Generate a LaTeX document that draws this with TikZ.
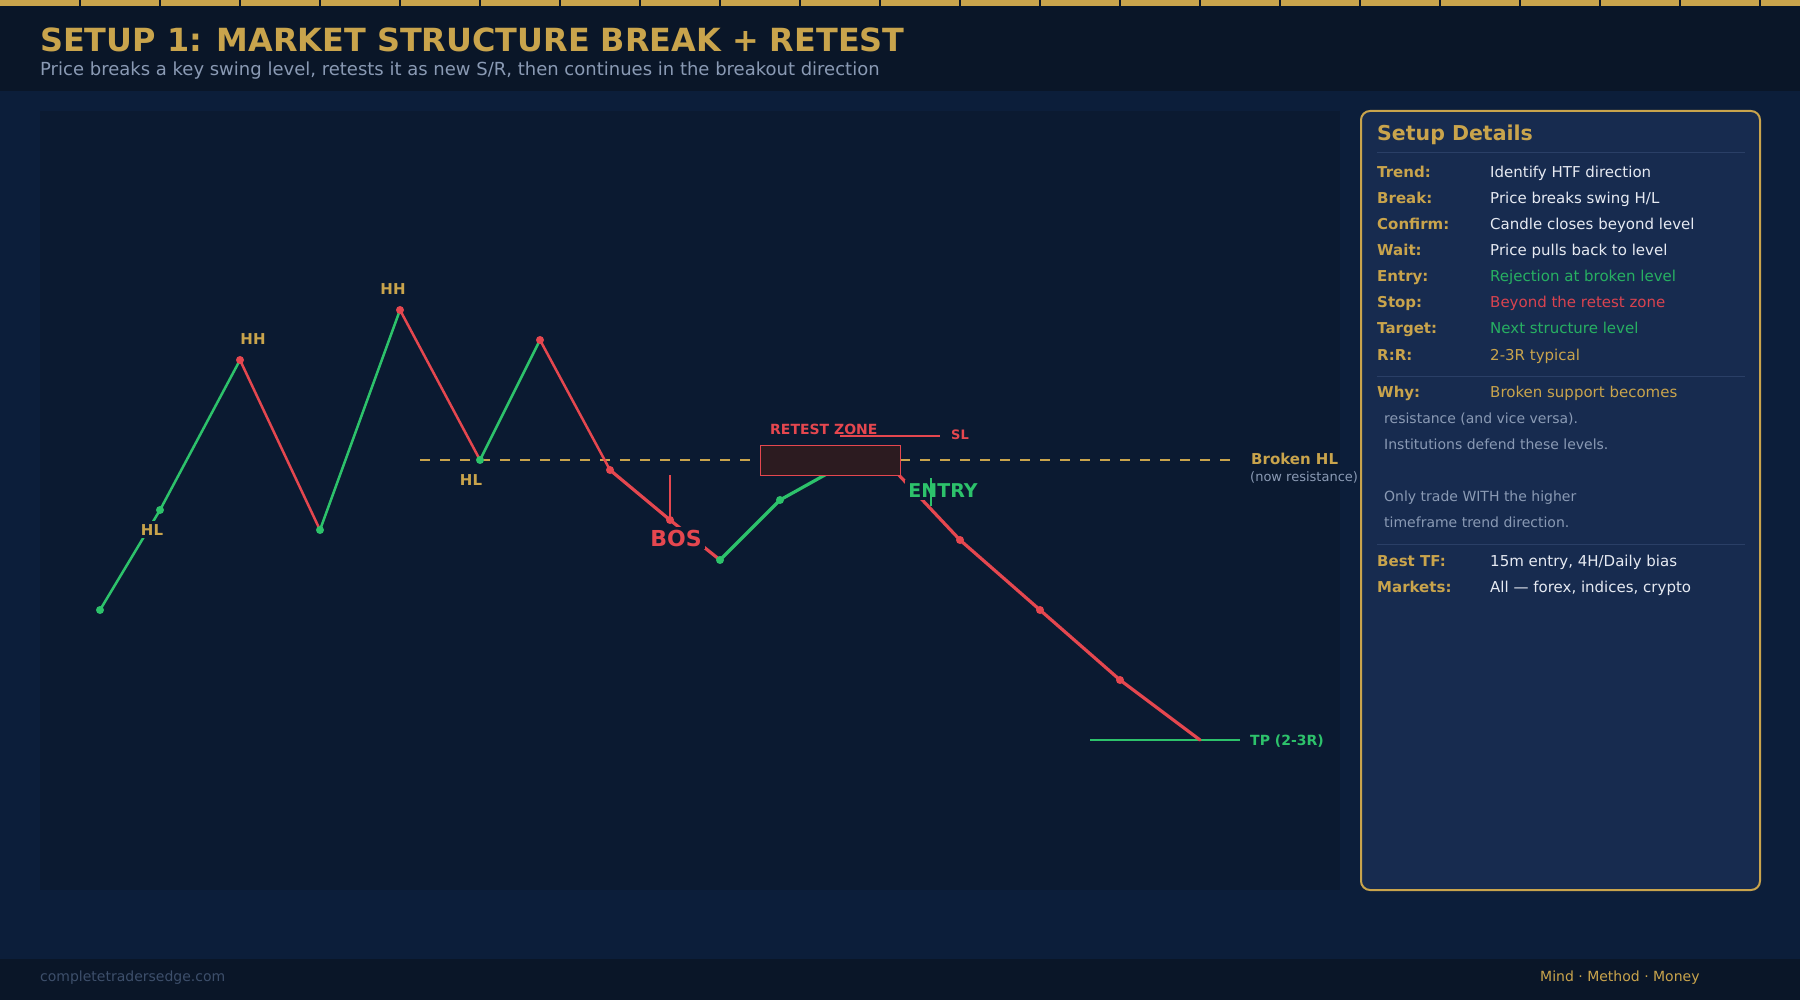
\documentclass[tikz,border=0pt]{standalone}
\usepackage{fontspec}
\setmainfont{DejaVu Sans}
\newcommand\myfs[1]{\fontsize{#1}{#1}\selectfont}
\definecolor{bgmain}{HTML}{0C1E3A}
\definecolor{bghead}{HTML}{0A1628}
\definecolor{bgchart}{HTML}{0B1A31}
\definecolor{bgpanel}{HTML}{172B4F}
\definecolor{cgold}{HTML}{C9A44C}
\definecolor{cgreen}{HTML}{2DC26B}
\definecolor{cred}{HTML}{E5474F}
\definecolor{ctxt}{HTML}{E6EAF2}
\definecolor{cgray}{HTML}{8A9AB4}
\definecolor{cdim}{HTML}{3D4F6B}
\definecolor{csep}{HTML}{2A3F66}
\definecolor{czone}{HTML}{2C1B20}
\definecolor{tgreen}{HTML}{27B062}
\definecolor{tred}{HTML}{D9434F}
\tikzset{
  gdot/.style={circle, fill=cgreen, inner sep=0pt, minimum size=8pt},
  rdot/.style={circle, fill=cred, inner sep=0pt, minimum size=8pt},
  upleg/.style={draw=cgreen, line width=2.5pt, line cap=round},
  dnleg/.style={draw=cred, line width=2.5pt, line cap=round},
  upleg2/.style={draw=cgreen, line width=3.2pt, line cap=round},
  dnleg2/.style={draw=cred, line width=3.2pt, line cap=round},
  swing/.style={anchor=base, text=cgold, font=\myfs{15}\bfseries, fill=bgchart, inner sep=3pt},
  rowlab/.style={anchor=base west, text=cgold, font=\myfs{15}\bfseries, inner sep=0pt},
  rowval/.style={anchor=base west, font=\myfs{15}, inner sep=0pt},
  rownote/.style={anchor=base west, text=cgray, font=\myfs{14}, inner sep=0pt},
  sepline/.style={draw=csep, line width=1pt}
}
\begin{document}
\begin{tikzpicture}[x=1pt,y=-1pt]
% backgrounds
\fill[bgmain] (0,0) rectangle (1800,1000);
\useasboundingbox (0,0) rectangle (1800,1000);
\fill[bghead] (0,0) rectangle (1800,91);
\fill[cgold] (0,0) rectangle (1800,6);
\foreach \i in {1,...,22} \draw[bghead, line width=1.5pt] (80*\i,0) -- (80*\i,6);
\fill[bghead] (0,959) rectangle (1800,1000);

% header text
\node[anchor=base west, text=cgold, font=\myfs{31.9}\bfseries, inner sep=0pt] (title) at (40,52) {SETUP 1: MARKET STRUCTURE BREAK + RETEST};
\node[anchor=base west, text=cgray, font=\myfs{18}, inner sep=0pt] (subtitle) at (40,76) {Price breaks a key swing level, retests it as new S/R, then continues in the breakout direction};

% chart panel
\fill[bgchart] (40,111) rectangle (1340,890);

% broken level
\coordinate (lvlL) at (420,460);
\coordinate (lvlR) at (1232,460);
\draw[cgold, line width=2pt, dash pattern=on 10pt off 10pt] (lvlL) -- (lvlR);

% swing points
\coordinate (p1) at (100,610);
\coordinate (p2) at (160,510);
\coordinate (p3) at (240,360);
\coordinate (p4) at (320,530);
\coordinate (p5) at (400,310);
\coordinate (p6) at (480,460);
\coordinate (p7) at (540,340);
\coordinate (p8) at (610,470);
\coordinate (p9) at (670,520);
\coordinate (p10) at (720,560);
\coordinate (p11) at (780,500);
\coordinate (p12) at (850,461);
\coordinate (p13) at (880,455);
\coordinate (p14) at (960,540);
\coordinate (p15) at (1040,610);
\coordinate (p16) at (1120,680);
\coordinate (p17) at (1200,740);

\draw[upleg] (p1) -- (p2);
\draw[upleg] (p2) -- (p3);
\draw[dnleg] (p3) -- (p4);
\draw[upleg] (p4) -- (p5);
\draw[dnleg] (p5) -- (p6);
\draw[upleg] (p6) -- (p7);
\draw[dnleg] (p7) -- (p8);
\draw[dnleg2] (p8) -- (p9);
\draw[dnleg2] (p9) -- (p10);
\draw[upleg2] (p10) -- (p11);
\draw[upleg2] (p11) -- (p12);
\draw[dnleg2] (p13) -- (p14);

% TP line
\coordinate (tpL) at (1090,740);
\coordinate (tpR) at (1240,740);
\draw[cgreen, line width=2pt] (tpL) -- (tpR);
\draw[dnleg2] (p14) -- (p15);
\draw[dnleg2] (p15) -- (p16);
\draw[dnleg2] (p16) -- (p17);

% BOS marker
\coordinate (bosTop) at (670,475);
\draw[cred, line width=2.5pt] (bosTop) -- (p9);

% dots
\foreach \p in {p1,p2,p4,p6,p10,p11} \node[gdot] at (\p) {};
\foreach \p in {p3,p5,p7,p8,p9,p14,p15,p16} \node[rdot] at (\p) {};

% retest zone
\draw[cred, line width=1pt, fill=czone] (760,445) rectangle (900,475);
\node[anchor=base west, text=cred, font=\myfs{14}\bfseries, inner sep=0pt] (rzone) at (770,435) {RETEST ZONE};
\coordinate (slL) at (840,436);
\coordinate (slR) at (940,436);
\draw[cred, line width=2pt] (slL) -- (slR);
\node[anchor=base west, text=cred, font=\myfs{13}\bfseries, inner sep=0pt] (sl) at (951,439) {SL};

% swing labels
\node[swing] (hh1) at (253,345) {HH};
\node[swing] (hh2) at (393,295) {HH};
\node[swing] (hl1) at (152,535) {HL};
\node[swing] (hl2) at (471,485) {HL};
\node[anchor=base, text=cred, font=\myfs{22}\bfseries, fill=bgchart, inner sep=3pt] (bos) at (676,546) {BOS};
\node[anchor=base, text=cgreen, font=\myfs{19}\bfseries, fill=bgchart, inner sep=3pt] (entry) at (943,497) {ENTRY};
\coordinate (etTop) at (931,478);
\coordinate (etBot) at (931,506);
\draw[cgreen, line width=2pt] (etTop) -- (etBot);

% right-side chart labels
\node[anchor=base west, text=cgold, font=\myfs{15}\bfseries, inner sep=0pt] (broken) at (1251,464) {Broken HL};
\node[anchor=base west, text=cgray, font=\myfs{13}, inner sep=0pt] (nowres) at (1250,481) {(now resistance)};
\node[anchor=base west, text=cgreen, font=\myfs{14}\bfseries, inner sep=0pt] (tp) at (1250,745) {TP (2-3R)};

% details panel
\draw[cgold, line width=2pt, fill=bgpanel, rounded corners=9pt] (1361,111) rectangle (1760,890);
\node[anchor=base west, text=cgold, font=\myfs{20.5}\bfseries, inner sep=0pt] (sdh) at (1377,141) {Setup Details};
\draw[sepline] (1377,153) -- (1745,153);

\node[rowlab] (l1) at (1377,178) {Trend:};
\node[rowval, text=ctxt] (v1) at (1490,178) {Identify HTF direction};
\node[rowlab] (l2) at (1377,204) {Break:};
\node[rowval, text=ctxt] (v2) at (1490,204) {Price breaks swing H/L};
\node[rowlab] (l3) at (1377,230) {Confirm:};
\node[rowval, text=ctxt] (v3) at (1490,230) {Candle closes beyond level};
\node[rowlab] (l4) at (1377,256) {Wait:};
\node[rowval, text=ctxt] (v4) at (1490,256) {Price pulls back to level};
\node[rowlab] (l5) at (1377,282) {Entry:};
\node[rowval, text=tgreen] (v5) at (1490,282) {Rejection at broken level};
\node[rowlab] (l6) at (1377,308) {Stop:};
\node[rowval, text=tred] (v6) at (1490,308) {Beyond the retest zone};
\node[rowlab] (l7) at (1377,334) {Target:};
\node[rowval, text=tgreen] (v7) at (1490,334) {Next structure level};
\node[rowlab] (l8) at (1377,360) {R:R:};
\node[rowval, text=cgold] (v8) at (1490,360) {2-3R typical};
\draw[sepline] (1377,377) -- (1745,377);

\node[rowlab] (l9) at (1377,398) {Why:};
\node[rowval, text=cgold] (v9) at (1490,398) {Broken support becomes};
\node[rownote] (n1) at (1384,423) {resistance (and vice versa).};
\node[rownote] (n2) at (1384,449) {Institutions defend these levels.};
\node[rownote] (n3) at (1384,501) {Only trade WITH the higher};
\node[rownote] (n4) at (1384,527) {timeframe trend direction.};
\draw[sepline] (1377,544) -- (1745,544);

\node[rowlab] (l10) at (1377,566) {Best TF:};
\node[rowval, text=ctxt] (v10) at (1490,566) {15m entry, 4H/Daily bias};
\node[rowlab] (l11) at (1377,592) {Markets:};
\node[rowval, text=ctxt] (v11) at (1490,592) {All — forex, indices, crypto};

% footer
\node[anchor=base west, text=cdim, font=\myfs{14}, inner sep=0pt] (site) at (40,981) {completetradersedge.com};
\node[anchor=base west, text=cgold, font=\myfs{14}, inner sep=0pt] (motto) at (1540,981) {Mind · Method · Money};
\end{tikzpicture}
\end{document}
